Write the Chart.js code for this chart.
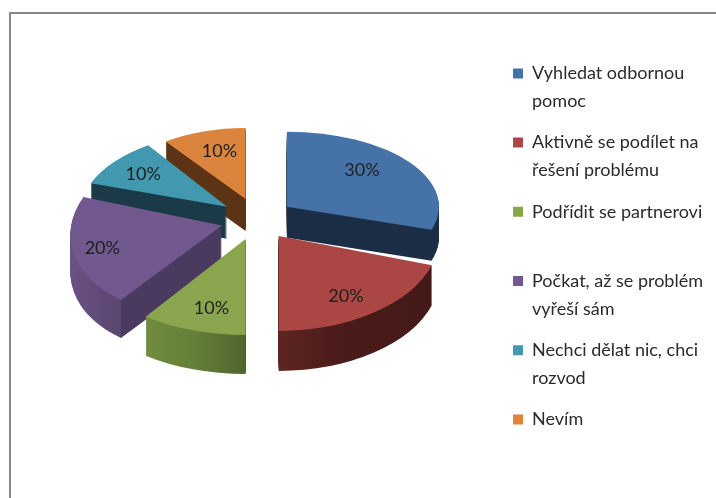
<!DOCTYPE html>
<html>
<head>
<meta charset="utf-8">
<script src="https://cdn.jsdelivr.net/npm/chart.js@4"></script>
<style>
  html, body { margin: 0; background: #fff; overflow: hidden; }
  #frame { position: absolute; left: 9px; top: 12px; width: 707px; height: 486px; border-left: 2px solid #888; border-top: 2px solid #888; box-sizing: border-box; }
  canvas { position: absolute; left: 0; top: 0; }
</style>
</head>
<body>
<div id="frame"></div>
<canvas id="pie3d" width="716" height="498"></canvas>
<script>
const categories = [
    ['Vyhledat odbornou', 'pomoc'],
    ['Aktivně se podílet na', 'řešení problému'],
    ['Podřídit se partnerovi'],
    ['Počkat, až se problém', 'vyřeší sám'],
    ['Nechci dělat nic, chci', 'rozvod'],
    ['Nevím']
];
const shares = [30, 20, 10, 20, 10, 10];
const topColors = ['#4573a7', '#aa4643', '#89a54e', '#71588f', '#4198af', '#db843d'];

// wall colours run left to right over the slice's full ellipse width
const wallStops = [
    [[0, '#1b2e46'], [1, '#1b2e46']],
    [[0.5, '#5c2522'], [0.7, '#4a1b19'], [1, '#431a18']],
    [[0.2, '#6f8d3f'], [0.35, '#64803a'], [0.5, '#4f652e']],
    [[0, '#6a5285'], [0.206, '#5a4670'], [0.206, '#4b3a5f'], [1, '#4b3a5f']],
    [[0, '#1a3a47'], [1, '#1a3a47']],
    [[0, '#5c3415'], [1, '#5c3415']]
];

// fake 3D view, the front of the pie is bigger than the back
const view = { cx: 257, cy: 219, explodeX: 37, explodeY: 21 };
const radiiX = [152, 161, 170, 150.5, 146, 136];
const radiiY = [75, 95, 96, 92, 76, 71];
const skews = [0, 0, 0, -0.167, -0.113, 0];
const depths = [31, 40, 39, 38, 32, 32];
const labelReach = [[0.61, 0.82], [0.71, 0.78], [0.65, 0.76], [0.835, 0.8], [0.71, 0.72], [0.62, 0.71]];
const drawOrder = [5, 4, 0, 3, 2, 1];

function drawArcWith(ctx, arc, fill) {
    const saved = arc.options;
    arc.options = Object.assign({}, saved, { backgroundColor: fill, borderWidth: 0 });
    arc.draw(ctx);
    arc.options = saved;
}

const pie3d = {
    id: 'pie3d',
    beforeDatasetsDraw(chart) {
        const ctx = chart.ctx;
        const arcs = chart.getDatasetMeta(0).data;
        const total = shares.reduce((a, b) => a + b, 0);
        const placed = arcs.map((arc, i) => {
            const mid = (arc.startAngle + arc.endAngle) / 2;
            return {
                x: view.cx + view.explodeX * Math.cos(mid),
                y: view.cy + view.explodeY * Math.sin(mid),
                sx: radiiX[i] / arc.outerRadius,
                sy: radiiY[i] / arc.outerRadius,
                mid
            };
        });

        drawOrder.forEach(i => {
            const arc = arcs[i], p = placed[i];
            const shear = skews[i] * p.sy;
            const place = dy => {
                ctx.setTransform(p.sx, 0, shear, p.sy, p.x - arc.x * p.sx - arc.y * shear, p.y + dy - arc.y * p.sy);
            };
            const wall = ctx.createLinearGradient(arc.x - arc.outerRadius, 0, arc.x + arc.outerRadius, 0);
            wallStops[i].forEach(s => wall.addColorStop(s[0], s[1]));
            ctx.save();
            for (let k = depths[i]; k >= 1; k--) {
                place(k);
                drawArcWith(ctx, arc, wall);
            }
            place(0);
            drawArcWith(ctx, arc, topColors[i]);
            ctx.restore();
        });

        ctx.save();
        ctx.font = '18px Lato';
        ctx.fillStyle = '#1f1f1f';
        ctx.textAlign = 'center';
        ctx.textBaseline = 'middle';
        arcs.forEach((arc, i) => {
            const p = placed[i];
            const lx = p.x + radiiX[i] * labelReach[i][0] * Math.cos(p.mid);
            const ly = p.y + radiiY[i] * labelReach[i][1] * Math.sin(p.mid);
            ctx.fillText(Math.round(shares[i] / total * 100) + '%', lx, ly);
        });
        ctx.restore();
        return false;
    }
};

new Chart(document.getElementById('pie3d').getContext('2d'), {
    type: 'pie',
    data: {
        labels: categories,
        datasets: [{
            data: shares,
            backgroundColor: topColors,
            borderWidth: 0
        }]
    },
    options: {
        responsive: false,
        animation: false,
        rotation: 0,
        layout: { padding: { top: 51, right: 3 } },
        plugins: {
            tooltip: { enabled: false },
            legend: {
                position: 'right',
                align: 'start',
                labels: {
                    boxWidth: 10,
                    boxHeight: 10,
                    padding: 13.4,
                    color: '#2b2b2b',
                    font: { family: 'Lato', size: 18, lineHeight: 1.55 },
                    generateLabels(chart) {
                        // one liners still take two rows, the reference spaces entries evenly
                        return Chart.overrides.pie.plugins.legend.labels.generateLabels(chart).map(item => {
                            item.text = item.text.length < 2 ? [item.text[0], ''] : item.text;
                            return item;
                        });
                    }
                }
            }
        }
    },
    plugins: [pie3d]
});
</script>
</body>
</html>
